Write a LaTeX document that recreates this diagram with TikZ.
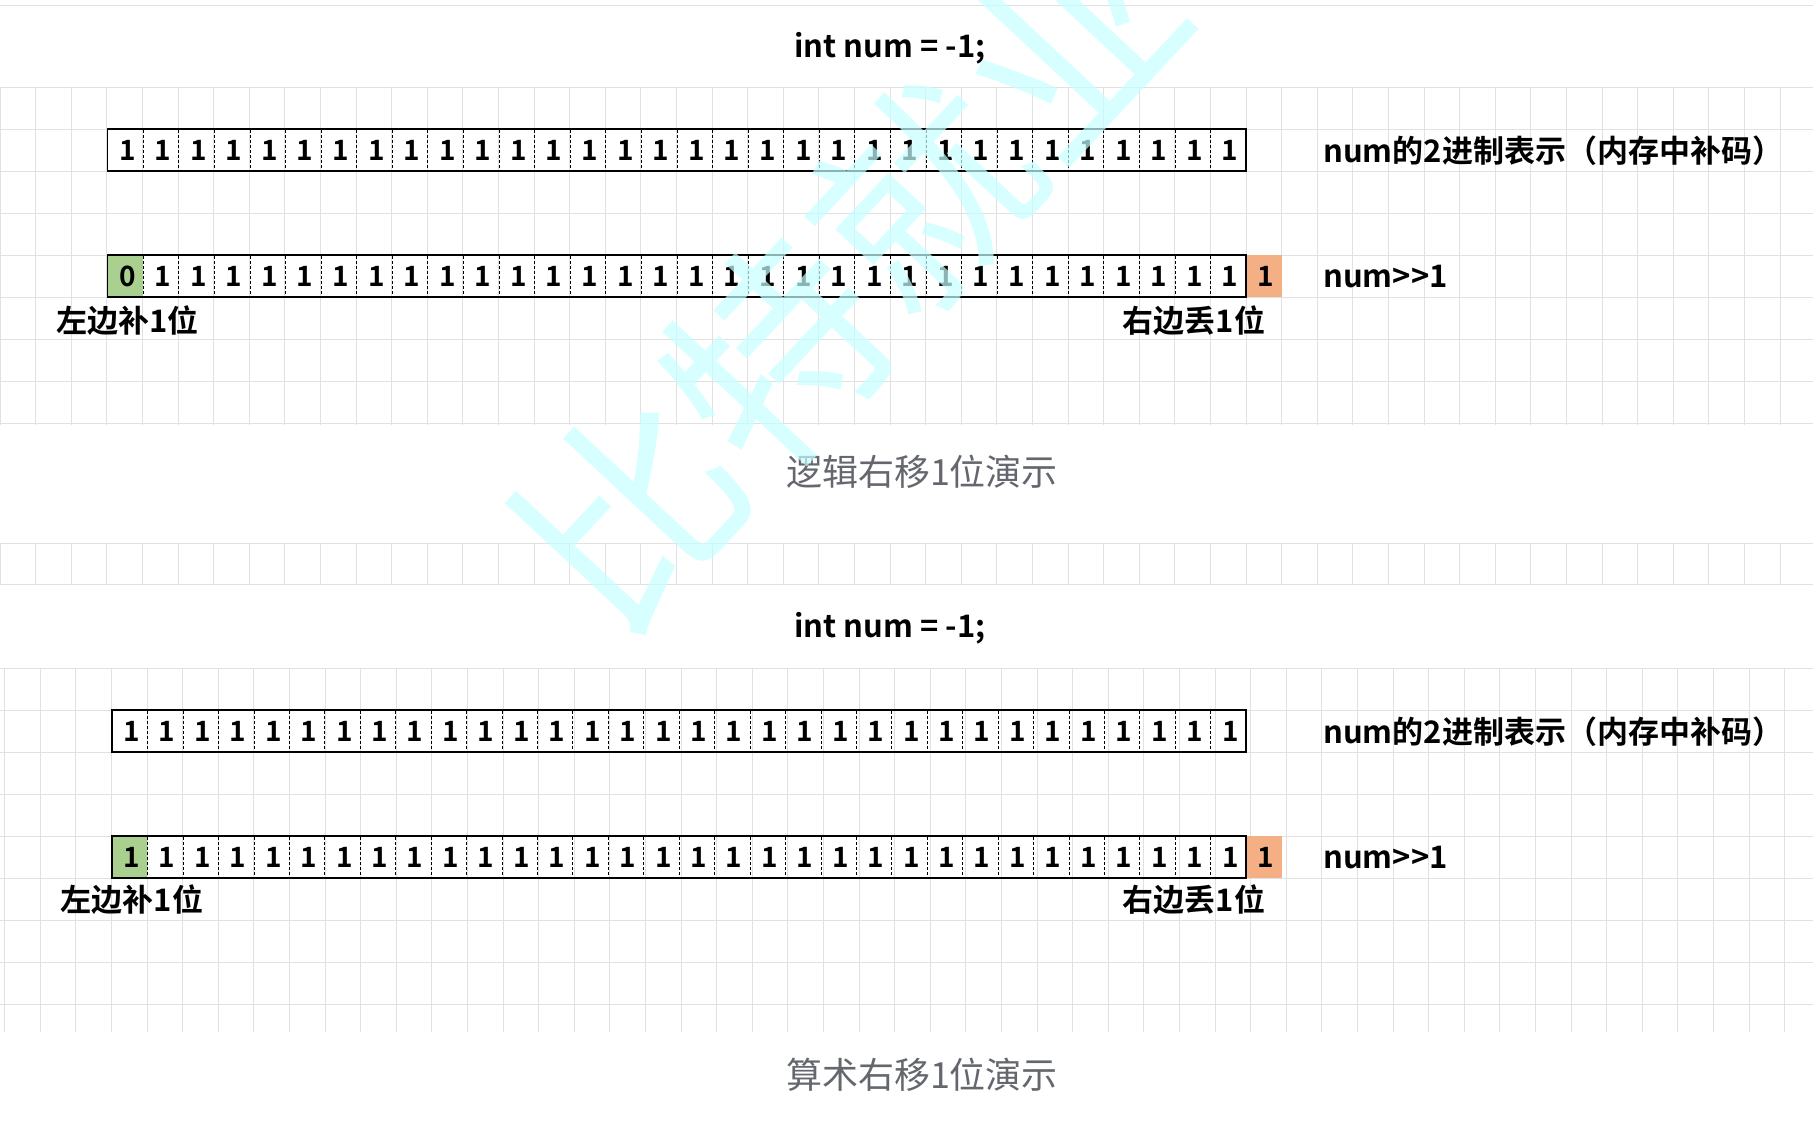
\documentclass[tikz,border=0pt]{standalone}
\usepackage{fontspec}
\setmainfont{Noto Sans CJK SC}
\newfontfamily\bfcjk{Noto Sans CJK SC Bold}
\definecolor{gridc}{RGB}{225,225,225}
\definecolor{greenc}{RGB}{169,208,142}
\definecolor{orangec}{RGB}{244,176,132}
\definecolor{capc}{RGB}{100,104,110}
\definecolor{wmc}{RGB}{200,255,255}
\begin{document}
\begin{tikzpicture}[x=1pt,y=-1pt,
  lbl/.style={font=\bfcjk\fontsize{31}{31}\selectfont,inner sep=0pt},
  captext/.style={font=\fontsize{36}{36}\selectfont,text=capc,inner sep=0pt},
  bit/.style={font=\bfcjk\fontsize{28}{28}\selectfont,inner sep=0pt},
  box/.style={draw=black,line width=1.6pt},
  div/.style={draw=black,line width=0.5pt,dash pattern=on 3pt off 2pt}]
\useasboundingbox (0,0) rectangle (1813,1129);
\fill[white] (0,0) rectangle (1813,1129);
% grids
\begin{scope}[gridc,line width=0.8pt]
\draw (0,5) -- (1813,5);
\foreach \y in {87,129,...,430} \draw (0,\y) -- (1813,\y);
\foreach \x in {0,35.6,...,1813} \draw (\x,87) -- (\x,425);
\draw (0,543) -- (1813,543);
\draw (0,584) -- (1813,584);
\foreach \x in {0,35.6,...,1813} \draw (\x,543) -- (\x,584);
\foreach \y in {668,710,...,1040} \draw (0,\y) -- (1813,\y);
\foreach \x in {4.5,40.1,...,1813} \draw (\x,668) -- (\x,1032);
\end{scope}
% section builder
\foreach \sec/\x/\ya/\yb/\yl/\first/\yt/\captxt/\ycap in
 {A/107.5/129/255/321/0/48/逻辑右移1位演示/472,
  B/112/710/836/900/1/628/算术右移1位演示/1075}{
  \pgfmathsetmacro{\w}{(1246-\x)/32}
  \node[lbl] (\sec title) at (890,\yt) {int num = -1;};
  \node[captext] (\sec cap) at (922,\ycap) {\captxt};
  % row 1
  \draw[box] (\x,\ya) rectangle (1246,\ya+42);
  \foreach \i in {1,...,31} \draw[div] (\x+\i*\w,\ya+1) -- (\x+\i*\w,\ya+41);
  \foreach \i in {0,...,31} \node[bit] (\sec r1c\i) at (\x+\i*\w+0.5*\w+2,\ya+21) {1};
  % row 2
  \fill[greenc] (\x,\yb) rectangle (\x+\w,\yb+42);
  \fill[orangec] (1246,\yb) rectangle (1282,\yb+42);
  \draw[box] (\x,\yb) rectangle (1246,\yb+42);
  \foreach \i in {1,...,31} \draw[div] (\x+\i*\w,\yb+1) -- (\x+\i*\w,\yb+41);
  \node[bit] (\sec r2c0) at (\x+0.5*\w+2,\yb+21) {\first};
  \foreach \i in {1,...,31} \node[bit] (\sec r2c\i) at (\x+\i*\w+0.5*\w+2,\yb+21) {1};
  \node[bit] (\sec lost) at (1266,\yb+21) {1};
  \node[lbl] (\sec left) at (\x+20,\yl) {左边补1位};
  \node[lbl] (\sec right) at (1194,\yl) {右边丢1位};
  \node[lbl,anchor=west] (\sec rep) at (1323,\ya+22) {num的2进制表示（内存中补码）};
  \node[lbl,anchor=west] (\sec shr) at (1323,\yb+22) {num>>1};
}
% watermark
\node[text=wmc,opacity=0.7,rotate=47,font=\fontsize{215}{215}\selectfont,inner sep=0pt] (wm) at (850,275) {比特就业};
\end{tikzpicture}
\end{document}
